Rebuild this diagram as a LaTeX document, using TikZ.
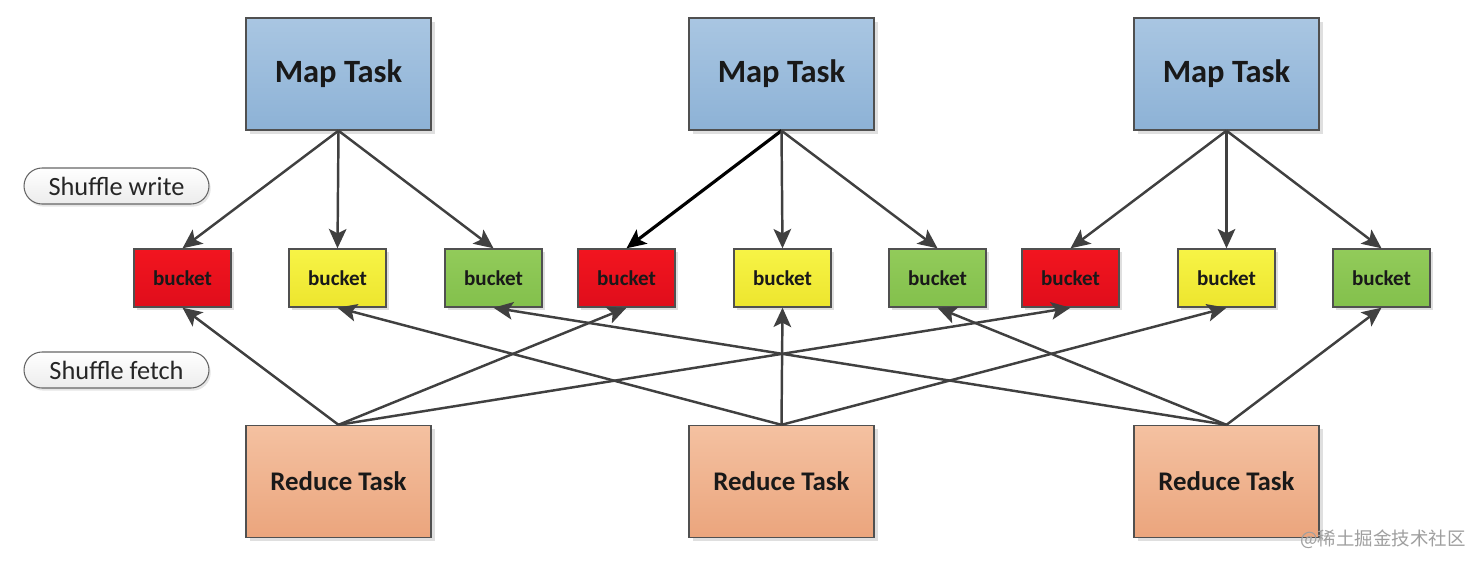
\documentclass[tikz,border=0pt]{standalone}
\usepackage{fontspec}
\setmainfont{Carlito}
\newfontfamily\cjkfont{Noto Sans CJK SC}
\usetikzlibrary{arrows.meta,shadows}
\definecolor{edgegray}{HTML}{404040}
\definecolor{boxborder}{HTML}{505050}
\tikzset{
  px/.style={x=0.02cm,y=-0.02cm},
  taskbox/.style={draw=boxborder,line width=0.8pt,minimum width=3.7cm,minimum height=2.24cm,inner sep=0pt,
    text=black!90,
    drop shadow={shadow xshift=2pt,shadow yshift=-2pt,opacity=0.25,fill=gray}},
  maptask/.style={taskbox,top color=mapTop,bottom color=mapBot,font=\fontsize{18.5}{22}\selectfont\bfseries},
  redtask/.style={taskbox,top color=redTop,bottom color=redBot,font=\fontsize{15.3}{18}\selectfont\bfseries},
  bucketbox/.style={draw=boxborder,line width=0.8pt,minimum width=1.94cm,minimum height=1.16cm,inner sep=0pt,
    font=\fontsize{12}{14}\selectfont\bfseries,text=black!90,
    drop shadow={shadow xshift=1.5pt,shadow yshift=-1.5pt,opacity=0.25,fill=gray}},
  bred/.style={bucketbox,top color=bRedTop,bottom color=bRedBot},
  byellow/.style={bucketbox,top color=bYelTop,bottom color=bYelBot},
  bgreen/.style={bucketbox,top color=bGrnTop,bottom color=bGrnBot},
  pill/.style={draw=gray!80!black,line width=0.6pt,rounded corners=0.36cm,minimum width=3.7cm,minimum height=0.72cm,
    inner sep=0pt,top color=white,bottom color=gray!15,font=\fontsize{15}{18}\selectfont,text=black!85,
    drop shadow={shadow xshift=1pt,shadow yshift=-1.5pt,opacity=0.2,fill=gray}},
  arr/.style={draw=edgegray,line width=1.4pt,-{Stealth[length=11pt,width=10pt,inset=2.5pt]}},
  darr/.style={draw=black,line width=1.8pt,-{Stealth[length=11pt,width=10pt,inset=2.5pt]}},
}
\definecolor{mapTop}{HTML}{A9C6E2}
\definecolor{mapBot}{HTML}{8DB2D6}
\definecolor{redTop}{HTML}{F4C1A1}
\definecolor{redBot}{HTML}{EBA57D}
\definecolor{bRedTop}{HTML}{F2151F}
\definecolor{bRedBot}{HTML}{E00D1B}
\definecolor{bYelTop}{HTML}{F7F446}
\definecolor{bYelBot}{HTML}{EDE52E}
\definecolor{bGrnTop}{HTML}{92CB5A}
\definecolor{bGrnBot}{HTML}{83C04C}
\begin{document}
\begin{tikzpicture}[px]
\useasboundingbox[fill=white] (0,0) rectangle (1480,566);
% map tasks
\node[maptask] (m1) at (338.5,74) {Map Task};
\node[maptask] (m2) at (781.5,74) {Map Task};
\node[maptask] (m3) at (1226.5,74) {Map Task};
% buckets
\node[bred]    (r1) at (182.5,278) {bucket};
\node[byellow] (y1) at (337.5,278) {bucket};
\node[bgreen]  (g1) at (493.5,278) {bucket};
\node[bred]    (r2) at (626.5,278) {bucket};
\node[byellow] (y2) at (782.5,278) {bucket};
\node[bgreen]  (g2) at (937.5,278) {bucket};
\node[bred]    (r3) at (1070.5,278) {bucket};
\node[byellow] (y3) at (1226.5,278) {bucket};
\node[bgreen]  (g3) at (1381.5,278) {bucket};
% reduce tasks
\node[redtask] (d1) at (338.5,481.5) {Reduce Task};
\node[redtask] (d2) at (781.5,481.5) {Reduce Task};
\node[redtask] (d3) at (1226.5,481.5) {Reduce Task};
% labels
\node[pill] (sw) at (116.5,186) {Shuffle write};
\node[pill] (sf) at (116.5,370) {Shuffle fetch};
% shuffle write
\draw[arr] (m1.south) -- (r1.north);
\draw[arr] (m1.south) -- (y1.north);
\draw[arr] (m1.south) -- (g1.north);
\draw[darr] (m2.south) -- (r2.north);
\draw[arr] (m2.south) -- (y2.north);
\draw[arr] (m2.south) -- (g2.north);
\draw[arr] (m3.south) -- (r3.north);
\draw[arr] (m3.south) -- (y3.north);
\draw[arr] (m3.south) -- (g3.north);
% shuffle fetch
\draw[arr] (d1.north) -- (r1.south);
\draw[arr] (d1.north) -- (r2.south);
\draw[arr] (d1.north) -- (r3.south);
\draw[arr] (d2.north) -- (y1.south);
\draw[arr] (d2.north) -- (y2.south);
\draw[arr] (d2.north) -- (y3.south);
\draw[arr] (d3.north) -- (g1.south);
\draw[arr] (d3.north) -- (g2.south);
\draw[arr] (d3.north) -- (g3.south);
% watermark
\node[font=\cjkfont\fontsize{10.5}{12}\selectfont,text=gray!75,anchor=center] (wm) at (1383,539) {@稀土掘金技术社区};
\end{tikzpicture}
\end{document}
